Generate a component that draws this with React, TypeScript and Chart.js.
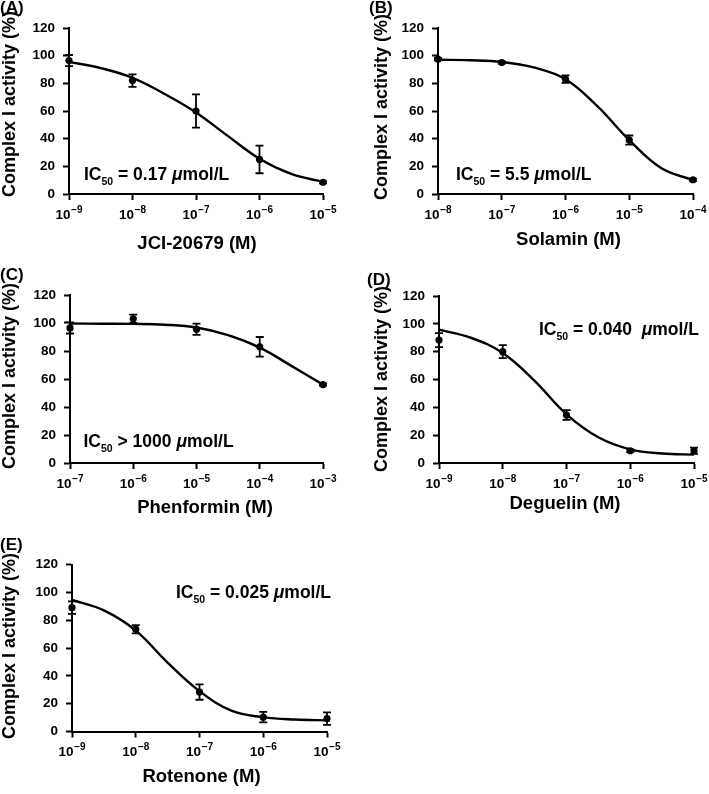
import React, { useEffect, useRef } from 'react';
import { Chart, registerables } from 'chart.js';

Chart.register(...registerables);

const FONT = '"Liberation Sans", Arial, Helvetica, sans-serif';

// ---------- Data ----------
const yTicks = [0, 20, 40, 60, 80, 100, 120];

// (A) JCI-20679
const dosesA = [1e-9, 1e-8, 1e-7, 1e-6, 1e-5];
const meansA = [96.5, 82, 60, 25, 8.5];
const errorsA = [4, 4.5, 12, 10, 0.8];
const fitDosesA = [1e-9, 3.16e-9, 1e-8, 3.16e-8, 1e-7, 3.16e-7, 1e-6, 3.16e-6, 1e-5];
const fitA = [95.5, 91, 84, 72.5, 59, 42, 25.5, 14.5, 8.8];
const xTicksA = [1e-9, 1e-8, 1e-7, 1e-6, 1e-5];
const xTickExpA = ['\u22129', '\u22128', '\u22127', '\u22126', '\u22125'];

// (B) Solamin
const dosesB = [1e-8, 1e-7, 1e-6, 1e-5, 1e-4];
const meansB = [97.5, 95, 83, 39, 10.3];
const errorsB = [0.8, 0.8, 2.7, 3.3, 0.8];
const fitDosesB = [1e-8, 3.16e-8, 1e-7, 3.16e-7, 1e-6, 3.16e-6, 1e-5, 3.16e-5, 1e-4];
const fitB = [97, 96.7, 95.5, 91.5, 83, 63.5, 39, 18.8, 10];
const xTicksB = [1e-8, 1e-7, 1e-6, 1e-5, 1e-4];
const xTickExpB = ['\u22128', '\u22127', '\u22126', '\u22125', '\u22124'];

// (C) Phenformin
const dosesC = [1e-7, 1e-6, 1e-5, 1e-4, 1e-3];
const meansC = [96.5, 103, 95.5, 83, 56];
const errorsC = [4, 3, 4, 7, 0.8];
const fitDosesC = [1e-7, 3.16e-7, 1e-6, 3.16e-6, 1e-5, 3.16e-5, 1e-4, 3.16e-4, 1e-3];
const fitC = [99.6, 99.5, 99.4, 98.8, 96.8, 91.3, 82.4, 69.4, 56];
const xTicksC = [1e-7, 1e-6, 1e-5, 1e-4, 1e-3];
const xTickExpC = ['\u22127', '\u22126', '\u22125', '\u22124', '\u22123'];

// (D) Deguelin
const dosesD = [1e-9, 1e-8, 1e-7, 1e-6, 1e-5];
const meansD = [88.3, 80, 34.5, 8.8, 8.8];
const errorsD = [5, 4.7, 3.5, 1, 2.2];
const fitDosesD = [1e-9, 3.16e-9, 1e-8, 3.16e-8, 1e-7, 3.16e-7, 1e-6, 3.16e-6, 1e-5];
const fitD = [95.8, 90, 79, 59, 35, 18.5, 9.8, 6.8, 6];
const xTicksD = [1e-9, 1e-8, 1e-7, 1e-6, 1e-5];
const xTickExpD = ['\u22129', '\u22128', '\u22127', '\u22126', '\u22125'];

// (E) Rotenone
const dosesE = [1e-9, 1e-8, 1e-7, 1e-6, 1e-5];
const meansE = [89, 73.5, 28.3, 10.3, 9.2];
const errorsE = [4.5, 3, 5.5, 3.8, 4.5];
const fitDosesE = [1e-9, 3.16e-9, 1e-8, 3.16e-8, 1e-7, 3.16e-7, 1e-6, 3.16e-6, 1e-5];
const fitE = [94.5, 87, 72.5, 49.5, 29, 15, 10.3, 8.6, 8];
const xTicksE = [1e-9, 1e-8, 1e-7, 1e-6, 1e-5];
const xTickExpE = ['\u22129', '\u22128', '\u22127', '\u22126', '\u22125'];

const yTitle = 'Complex I activity (%)';

// ---------- Panel layout ----------
type PanelSpec = {
  label: string;
  xTitle: string;
  icTail: string;
  doses: number[];
  means: number[];
  errors: number[];
  fitDoses: number[];
  fit: number[];
  xTicks: number[];
  xTickExp: string[];
  box: number[]; // left, top, width, height (page)
  plot: { l: number; r: number; t: number; b: number };
  yTitleXY: number[];
  xTitleXY: number[];
  labelXY: number[];
  icXY: number[];
};

const panels: PanelSpec[] = [
  {
    label: '(A)', xTitle: 'JCI-20679 (M)', icTail: ' = 0.17 ',
    doses: dosesA, means: meansA, errors: errorsA, fitDoses: fitDosesA, fit: fitA,
    xTicks: xTicksA, xTickExp: xTickExpA,
    box: [0, 0, 354, 265], plot: { l: 69, r: 323, t: 28, b: 194 },
    yTitleXY: [10, 104], xTitleXY: [197, 244], labelXY: [0, 12.5], icXY: [84, 180],
  },
  {
    label: '(B)', xTitle: 'Solamin (M)', icTail: ' = 5.5 ',
    doses: dosesB, means: meansB, errors: errorsB, fitDoses: fitDosesB, fit: fitB,
    xTicks: xTicksB, xTickExp: xTickExpB,
    box: [354, 0, 355, 265], plot: { l: 438, r: 693, t: 28, b: 194 },
    yTitleXY: [382, 107], xTitleXY: [568.5, 239.5], labelXY: [369, 12.5], icXY: [456, 180],
  },
  {
    label: '(C)', xTitle: 'Phenformin (M)', icTail: ' > 1000 ',
    doses: dosesC, means: meansC, errors: errorsC, fitDoses: fitDosesC, fit: fitC,
    xTicks: xTicksC, xTickExp: xTickExpC,
    box: [0, 265, 354, 265], plot: { l: 70, r: 323, t: 295, b: 463 },
    yTitleXY: [10, 376], xTitleXY: [205, 508], labelXY: [0, 279.5], icXY: [83.5, 446.5],
  },
  {
    label: '(D)', xTitle: 'Deguelin (M)', icTail: ' = 0.040  ',
    doses: dosesD, means: meansD, errors: errorsD, fitDoses: fitDosesD, fit: fitD,
    xTicks: xTicksD, xTickExp: xTickExpD,
    box: [354, 265, 355, 265], plot: { l: 439, r: 694, t: 296, b: 463 },
    yTitleXY: [382.5, 379], xTitleXY: [565, 504], labelXY: [367, 284.5], icXY: [539, 335],
  },
  {
    label: '(E)', xTitle: 'Rotenone (M)', icTail: ' = 0.025 ',
    doses: dosesE, means: meansE, errors: errorsE, fitDoses: fitDosesE, fit: fitE,
    xTicks: xTicksE, xTickExp: xTickExpE,
    box: [0, 530, 354, 264], plot: { l: 72, r: 327, t: 564.5, b: 731.5 },
    yTitleXY: [10, 646], xTitleXY: [201.5, 777], labelXY: [0, 549.5], icXY: [176, 598],
  },
];

function PanelChart({ p }: { p: PanelSpec }) {
  const ref = useRef<HTMLCanvasElement | null>(null);

  useEffect(() => {
    const canvas = ref.current;
    if (!canvas) return;
    const [bx, by, bw, bh] = p.box;
    const padTop = p.plot.t - by;
    const padRight = bx + bw - p.plot.r;
    const yWidth = p.plot.l - bx;
    const xHeight = by + bh - p.plot.b;

    const overlay = {
      id: 'overlay' + p.label,
      afterDatasetsDraw(chart: any) {
        const ctx = chart.ctx;
        const xs = chart.scales.x;
        const ys = chart.scales.y;
        ctx.save();
        ctx.strokeStyle = '#000';
        ctx.lineWidth = 1.8;
        p.doses.forEach((d, i) => {
          const e = p.errors[i];
          const x = xs.getPixelForValue(d);
          const y1 = ys.getPixelForValue(p.means[i] + e);
          const y2 = ys.getPixelForValue(p.means[i] - e);
          ctx.beginPath();
          ctx.moveTo(x, y1);
          ctx.lineTo(x, y2);
          ctx.moveTo(x - 4, y1);
          ctx.lineTo(x + 4, y1);
          ctx.moveTo(x - 4, y2);
          ctx.lineTo(x + 4, y2);
          ctx.stroke();
        });
        ctx.restore();
      },
      afterDraw(chart: any) {
        const ctx = chart.ctx;
        const xs = chart.scales.x;
        ctx.save();
        ctx.fillStyle = '#000';
        ctx.textAlign = 'left';
        ctx.textBaseline = 'alphabetic';

        // x tick labels: 10 with superscript exponent
        const baseY = chart.chartArea.bottom + 24.5;
        p.xTicks.forEach((v, i) => {
          const x = xs.getPixelForValue(v);
          ctx.font = `bold 13.5px ${FONT}`;
          const w1 = ctx.measureText('10').width;
          ctx.font = `bold 10px ${FONT}`;
          const w2 = ctx.measureText(p.xTickExp[i]).width;
          const start = x - (w1 + 0.8 + w2) / 2;
          ctx.font = `bold 13.5px ${FONT}`;
          ctx.fillText('10', start, baseY);
          ctx.font = `bold 10px ${FONT}`;
          ctx.fillText(p.xTickExp[i], start + w1 + 0.8, baseY - 6);
        });

        // panel label
        ctx.font = `bold 17px ${FONT}`;
        ctx.fillText(p.label, p.labelXY[0] - bx, p.labelXY[1] - by);

        // IC50 annotation
        let cx = p.icXY[0] - bx;
        const cy = p.icXY[1] - by;
        const seg = (t: string, font: string, dy: number) => {
          ctx.font = font;
          ctx.fillText(t, cx, cy + dy);
          cx += ctx.measureText(t).width;
        };
        const big = `bold 17.5px ${FONT}`;
        seg('IC', big, 0);
        seg('50', `bold 10.5px ${FONT}`, 5);
        seg(p.icTail, big, 0);
        seg('\u03bc', `italic bold 17.5px ${FONT}`, 0);
        seg('mol/L', big, 0);

        // axis titles
        ctx.textAlign = 'center';
        ctx.textBaseline = 'middle';
        ctx.font = `bold 18.5px ${FONT}`;
        ctx.fillText(p.xTitle, p.xTitleXY[0] - bx, p.xTitleXY[1] - by);
        ctx.font = `bold 18px ${FONT}`;
        ctx.translate(p.yTitleXY[0] - bx, p.yTitleXY[1] - by);
        ctx.rotate(-Math.PI / 2);
        ctx.fillText(yTitle, 0, 0);
        ctx.restore();
      },
    };

    const gridOpts = {
      display: true,
      drawOnChartArea: false,
      drawTicks: true,
      tickLength: 6,
      tickWidth: 2,
      tickColor: '#000',
    };
    const borderOpts = { display: true, color: '#000', width: 2 };

    const chart = new Chart(canvas, {
      type: 'scatter',
      data: {
        datasets: [
          {
            data: p.fitDoses.map((d, i) => ({ x: d, y: p.fit[i] })),
            showLine: true,
            pointRadius: 0,
            borderColor: '#000',
            borderWidth: 2.4,
            tension: 0.4,
            clip: false,
          } as any,
          {
            data: p.doses.map((d, i) => ({ x: d, y: p.means[i] })),
            showLine: false,
            pointRadius: 3.6,
            pointBackgroundColor: '#000',
            pointBorderWidth: 0,
            clip: false,
          } as any,
        ],
      },
      options: {
        animation: false,
        responsive: false,
        events: [],
        layout: { padding: { left: 0, top: padTop, right: padRight, bottom: 0 } },
        plugins: { legend: { display: false }, tooltip: { enabled: false } },
        scales: {
          x: {
            type: 'logarithmic',
            min: p.xTicks[0],
            max: p.xTicks[p.xTicks.length - 1],
            afterBuildTicks: (s: any) => {
              s.ticks = p.xTicks.map((v) => ({ value: v }));
            },
            afterFit: (s: any) => {
              s.height = xHeight;
            },
            ticks: { display: false },
            grid: gridOpts,
            border: borderOpts,
          },
          y: {
            type: 'linear',
            min: 0,
            max: 120,
            afterBuildTicks: (s: any) => {
              s.ticks = yTicks.map((v) => ({ value: v }));
            },
            afterFit: (s: any) => {
              s.width = yWidth;
            },
            ticks: {
              color: '#000',
              padding: 8,
              font: { family: FONT, size: 13.5, weight: 'bold' },
            },
            grid: gridOpts,
            border: borderOpts,
          },
        } as any,
      },
      plugins: [overlay],
    });

    return () => chart.destroy();
  }, [p]);

  return (
    <canvas
      ref={ref}
      width={p.box[2]}
      height={p.box[3]}
      style={{ position: 'absolute', left: p.box[0], top: p.box[1], width: p.box[2], height: p.box[3] }}
    />
  );
}

export default function App() {
  return (
    <div style={{ position: 'absolute', left: 0, top: 0, width: 709, height: 794, background: '#fff' }}>
      {panels.map((p) => (
        <PanelChart key={p.label} p={p} />
      ))}
    </div>
  );
}
